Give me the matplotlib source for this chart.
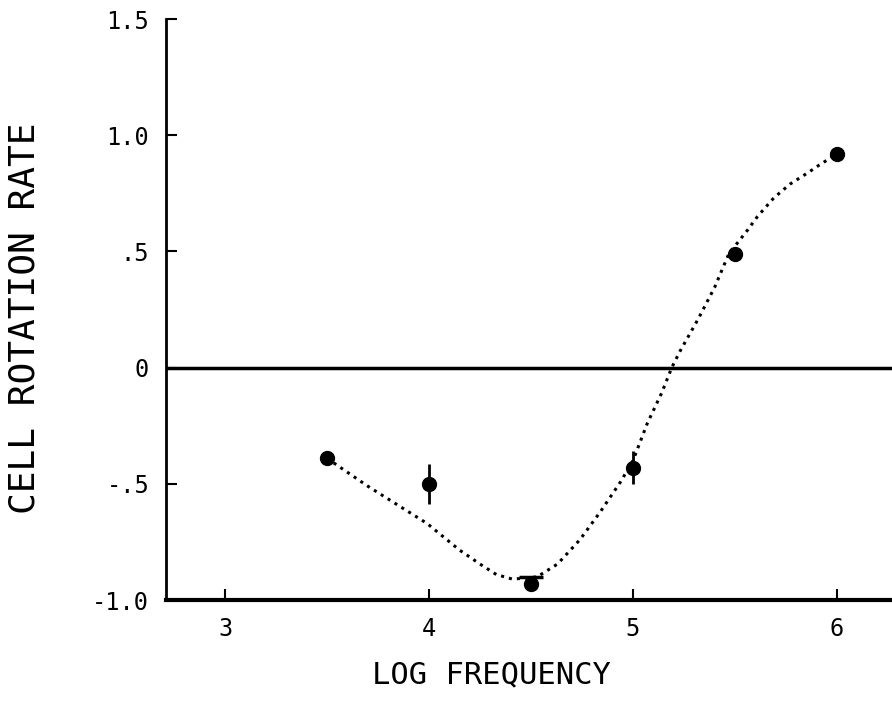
import numpy as np
import matplotlib.pyplot as plt

# measured points
log_freq = [3.5, 4.0, 4.5, 5.0, 5.5, 6.0]
rot_rate = [-0.39, -0.50, -0.93, -0.43, 0.49, 0.92]
rate_err = [0.0, 0.085, 0.03, 0.07, 0.0, 0.0]

# hand-drawn dotted fit curve
curve_x = [3.5, 3.70, 3.99, 4.15, 4.25, 4.33, 4.41, 4.53, 4.63, 4.74, 4.84,
           4.94, 5.0, 5.07, 5.14, 5.19, 5.23, 5.32, 5.40, 5.47, 5.56, 5.61,
           5.69, 5.77, 5.86, 5.91, 6.0]
curve_y = [-0.39, -0.51, -0.67, -0.785, -0.845, -0.89, -0.91, -0.90, -0.845,
           -0.74, -0.62, -0.49, -0.40, -0.24, -0.11, 0.0, 0.07, 0.21, 0.345,
           0.49, 0.59, 0.65, 0.73, 0.79, 0.84, 0.87, 0.92]

yticks = [-1.0, -0.5, 0.0, 0.5, 1.0, 1.5]
ytick_labels = ["-1.0", "-.5", "0", ".5", "1.0", "1.5"]
xticks = [3, 4, 5, 6]

plt.rcParams['font.family'] = 'DejaVu Sans Mono'

fig = plt.figure(figsize=(8.92, 7.06), dpi=100)
ax = fig.add_axes([0.186, 0.150, 0.814, 0.823])

ax.plot(curve_x, curve_y, linestyle=':', color='k', lw=2.2)
ax.errorbar(log_freq, rot_rate, yerr=rate_err, fmt='o', color='k', ms=10,
            elinewidth=2, capsize=0)
# the 4.5 point has a cap on top only
i = 2
ax.hlines(rot_rate[i] + rate_err[i], log_freq[i] - 0.06, log_freq[i] + 0.06,
          color='k', lw=2.5)
ax.axhline(0, color='k', lw=2.5)

ax.set_xlim(2.71, 6.27)
ax.set_ylim(-1.0, 1.5)

ax.set_xticks(xticks)
ax.set_xticklabels([str(t) for t in xticks])
ax.set_yticks(yticks)
ax.set_yticklabels(ytick_labels)
ax.tick_params(direction='in', length=8, width=1.5, labelsize=17, pad=12)

for s in ['top', 'right']:
    ax.spines[s].set_visible(False)
ax.spines['left'].set_linewidth(2)
ax.spines['bottom'].set_linewidth(3)

ax.set_xlabel("LOG FREQUENCY", fontsize=22)
ax.set_ylabel("CELL ROTATION RATE", fontsize=26)
ax.xaxis.set_label_coords(0.448, -0.103)
ax.yaxis.set_label_coords(-0.172, 0.485)

plt.savefig("out.png", dpi=100)
